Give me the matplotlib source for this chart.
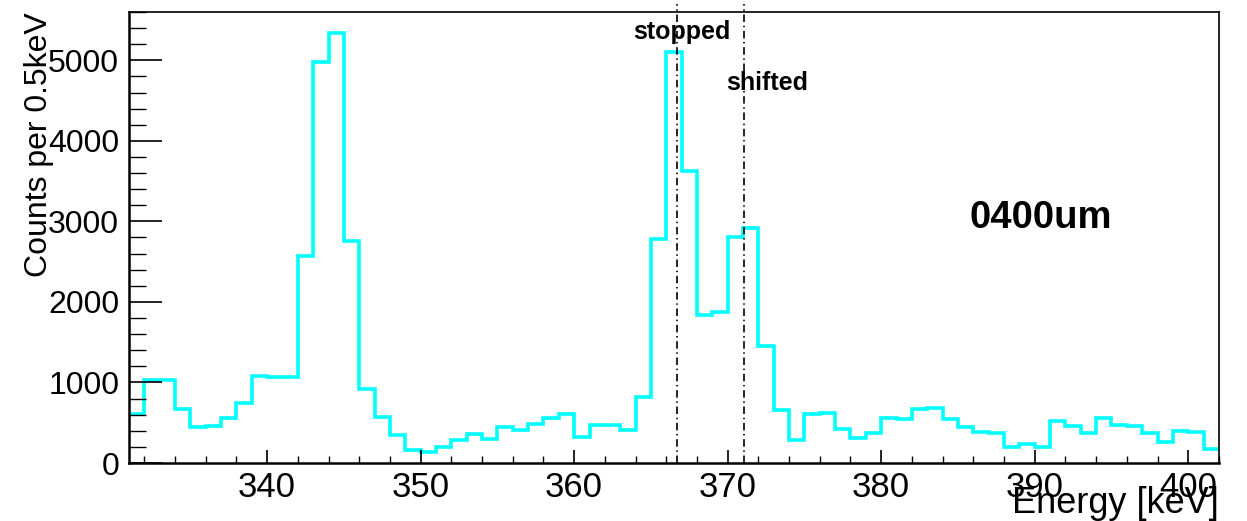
import matplotlib
matplotlib.use("Agg")
import matplotlib.pyplot as plt
import numpy as np
from matplotlib.ticker import MultipleLocator

plt.rcParams['font.family'] = ['Liberation Sans', 'DejaVu Sans']

# histogram, 1 keV bins from 331 to 402 keV
edges = np.arange(331, 403, 1)
counts = [613, 1035, 1027, 675, 447, 456, 559, 750, 1081, 1070,
          1070, 2572, 4975, 5335, 2758, 924, 572, 352, 157, 137,
          199, 290, 356, 294, 447, 406, 489, 559, 613, 323,
          468, 476, 406, 820, 2779, 5107, 3628, 1835, 1876, 2808,
          2912, 1450, 663, 282, 613, 625, 427, 311, 373, 559,
          547, 675, 688, 551, 447, 385, 377, 199, 240, 199,
          522, 456, 373, 563, 476, 460, 377, 261, 398, 389,
          170]

# marker lines + labels
line_pos = [366.7, 371.05]
line_names = ['stopped', 'shifted']
name_xy = [(367.0, 5350), (372.6, 4720)]
tag = '0400um'
tag_xy = (390.4, 3040)

fig = plt.figure(figsize=(12.47, 5.21), dpi=100)
ax = fig.add_axes([0.1034, 0.1113, 0.8741, 0.8657])

ax.stairs(counts, edges, baseline=None, color='#00ffff', lw=2.6)

for xv in line_pos:
    ax.axvline(xv, ymin=0, ymax=1.017, color='black', lw=1.2,
               dashes=(4.5, 2.2, 0.9, 2.2), clip_on=False)
for nm, (xx, yy) in zip(line_names, name_xy):
    ax.text(xx, yy, nm, ha='center', va='center', fontsize=18, fontweight='bold')
ax.text(tag_xy[0], tag_xy[1], tag, ha='center', va='center', fontsize=27.5, fontweight='bold')

ax.set_xlim(331, 402)
ax.set_ylim(0, 5600)
ax.xaxis.set_major_locator(MultipleLocator(10))
ax.xaxis.set_minor_locator(MultipleLocator(2))
ax.yaxis.set_major_locator(MultipleLocator(1000))
ax.yaxis.set_minor_locator(MultipleLocator(200))

ax.tick_params(axis='x', which='major', direction='in', length=9.5, width=1.2, labelsize=25, pad=6)
ax.tick_params(axis='x', which='minor', direction='in', length=5, width=1.0)
ax.tick_params(axis='y', which='major', direction='in', length=24, width=1.2, labelsize=23, pad=7)
ax.tick_params(axis='y', which='minor', direction='in', length=12, width=1.0)

for s in ['left', 'bottom']:
    ax.spines[s].set_linewidth(1.8)
for s in ['top', 'right']:
    ax.spines[s].set_linewidth(1.2)

ax.set_xlabel('Energy [keV]', fontsize=26, loc='right')
ax.xaxis.set_label_coords(1.0, -0.05)
ax.set_ylabel('Counts per 0.5keV', fontsize=23, loc='top')
ax.yaxis.set_label_coords(-0.069, 1.0)

fig.savefig('out.png', dpi=100)
